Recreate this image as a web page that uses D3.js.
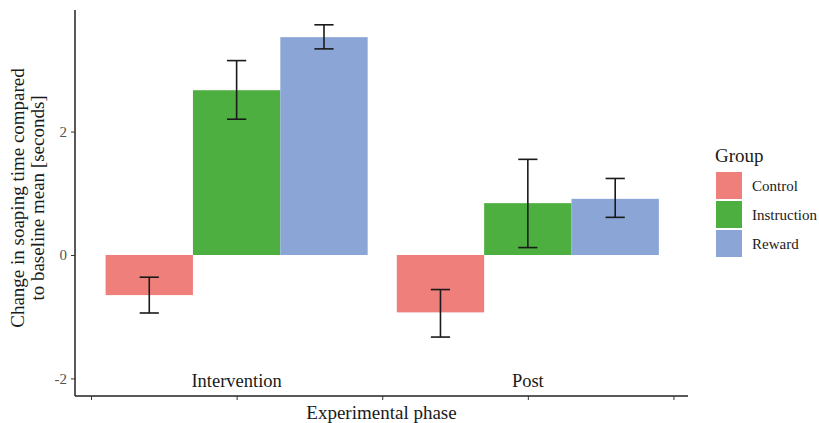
<!DOCTYPE html>
<html><head><meta charset="utf-8">
<script src="https://cdn.jsdelivr.net/npm/d3@7"></script>
<style>body{margin:0;background:#fff}svg{display:block}text{font-family:"Liberation Serif","Times New Roman",serif}</style>
</head><body><svg id="c" width="819" height="423"></svg>
<script>
const phases = ["Intervention", "Post"];
const groups = ["Control", "Instruction", "Reward"];
const colors = ["#EE7F7A", "#4CAF3F", "#8BA6D6"];
const means = {Intervention: [-0.65, 2.67, 3.53], Post: [-0.93, 0.84, 0.91]};
const lower = {Intervention: [-0.94, 2.20, 3.34], Post: [-1.33, 0.12, 0.61]};
const upper = {Intervention: [-0.36, 3.15, 3.73], Post: [-0.56, 1.55, 1.24]};
const yTicks = [-2, 0, 2];
const xTicks = [0.5, 1, 1.5, 2, 2.5];

const svg = d3.select("#c");
const L = 75, R = 688, T = 10, B = 396;
const x = d3.scaleLinear().domain([0.445, 2.55]).range([L, R]);
const y = d3.scaleLinear().domain([-2.285, 3.97]).range([B, T]);
const bw = 0.3;

const rows = [];
phases.forEach((p, pi) => groups.forEach((g, gi) => rows.push({
  p, g, gi, xc: pi + 1 + (gi - 1) * bw, m: means[p][gi], lo: lower[p][gi], hi: upper[p][gi]
})));

svg.selectAll("rect.bar").data(rows).join("rect").attr("class", "bar")
  .attr("x", d => x(d.xc - bw / 2)).attr("width", d => x(d.xc + bw / 2) - x(d.xc - bw / 2))
  .attr("y", d => y(Math.max(0, d.m))).attr("height", d => Math.abs(y(d.m) - y(0)))
  .attr("fill", d => colors[d.gi]);

const eb = svg.append("g").attr("stroke", "#1a1a1a").attr("stroke-width", 1.6).attr("fill", "none");
const cap = bw * 0.11;
rows.forEach(d => {
  eb.append("line").attr("x1", x(d.xc)).attr("x2", x(d.xc)).attr("y1", y(d.lo)).attr("y2", y(d.hi));
  [d.lo, d.hi].forEach(v => eb.append("line").attr("x1", x(d.xc - cap)).attr("x2", x(d.xc + cap)).attr("y1", y(v)).attr("y2", y(v)));
});

// phase labels inside plot
svg.selectAll("text.ph").data(phases).join("text").attr("class", "ph")
  .attr("x", (d, i) => x(i + 1)).attr("y", 387).attr("text-anchor", "middle")
  .attr("font-size", 18.5).attr("fill", "#1a1a1a").text(d => d);

// axes
const ya = svg.append("g").attr("transform", `translate(${L},0)`)
  .call(d3.axisLeft(y).tickValues(yTicks).tickSize(4).tickPadding(4).tickFormat(d => String(d)));
ya.select(".domain").attr("stroke", "#222").attr("stroke-width", 1.5).attr("d", `M0,${T}V${B}`);
ya.selectAll(".tick line").attr("stroke", "#333");
ya.selectAll(".tick text").attr("font-size", 15).attr("fill", "#555").attr("font-family", "Liberation Serif");

const xa = svg.append("g").attr("transform", `translate(0,${B})`)
  .call(d3.axisBottom(x).tickValues(xTicks).tickSize(4).tickFormat(""));
xa.select(".domain").attr("stroke", "#222").attr("stroke-width", 1.5).attr("d", `M${L},0H${R}`);
xa.selectAll(".tick line").attr("stroke", "#333");

svg.append("text").attr("x", (L + R) / 2).attr("y", 419).attr("text-anchor", "middle")
  .attr("font-size", 19).attr("fill", "#1a1a1a").text("Experimental phase");

const yt = svg.append("text").attr("transform", `translate(24,198) rotate(-90)`)
  .attr("text-anchor", "middle").attr("font-size", 19).attr("fill", "#1a1a1a");
yt.append("tspan").attr("x", 0).attr("dy", 0).text("Change in soaping time compared");
yt.append("tspan").attr("x", 0).attr("dy", 20).text("to baseline mean [seconds]");

// legend
const lg = svg.append("g").attr("transform", "translate(715,0)");
lg.append("text").attr("x", 0).attr("y", 162).attr("font-size", 19).attr("fill", "#1a1a1a").text("Group");
groups.forEach((g, i) => {
  lg.append("rect").attr("x", 1).attr("y", 172 + i * 29).attr("width", 26).attr("height", 27).attr("fill", colors[i]);
  lg.append("text").attr("x", 37).attr("y", 172 + i * 29 + 19).attr("font-size", 15).attr("fill", "#1a1a1a").text(g);
});
</script></body></html>
